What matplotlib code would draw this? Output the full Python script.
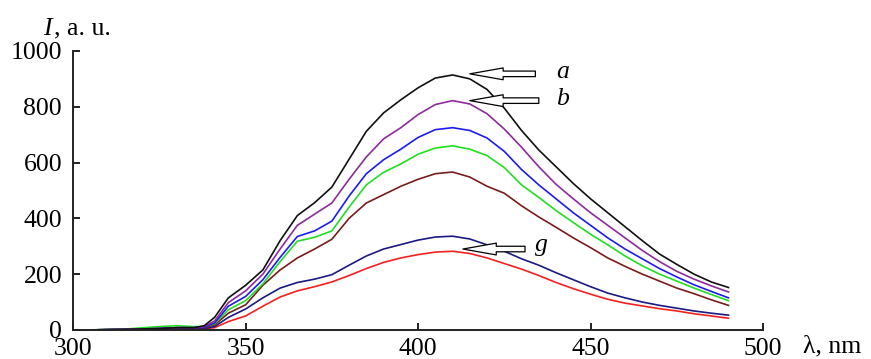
import matplotlib.pyplot as plt

# wavelength grid (nm)
wl = [305, 315, 325, 330, 335, 338, 341, 345, 350, 355, 360, 365, 370, 375,
      380, 385, 390, 395, 400, 405, 410, 415, 420, 425, 430, 435, 440, 445,
      450, 455, 460, 465, 470, 475, 480, 485, 490]

# intensities (a.u.), top curve (a) to bottom curve (g)
I_a = [0, 2, 5, 8, 8, 15, 45, 115, 160, 215, 320, 410, 456, 512,
       612, 712, 778, 825, 868, 903, 914, 900, 862, 795, 715, 645, 585, 525,
       470, 420, 370, 320, 272, 235, 200, 172, 152]
I_b = [0, 2, 5, 8, 8, 12, 32, 98, 140, 200, 290, 375, 415, 455,
       540, 620, 685, 725, 772, 808, 822, 810, 775, 720, 655, 585, 522, 470,
       420, 375, 330, 285, 245, 210, 182, 158, 136]
I_c = [0, 2, 5, 8, 8, 10, 25, 85, 120, 180, 260, 335, 355, 390,
       480, 560, 610, 648, 690, 718, 725, 715, 688, 640, 575, 520, 470, 420,
       375, 330, 290, 255, 220, 190, 162, 138, 115]
I_d = [0, 3, 12, 15, 12, 12, 22, 72, 105, 165, 245, 318, 332, 355,
       440, 520, 565, 595, 630, 652, 660, 648, 625, 582, 520, 475, 428, 385,
       343, 305, 265, 230, 200, 175, 150, 127, 105]
I_e = [0, 2, 5, 8, 8, 8, 18, 60, 90, 160, 215, 258, 290, 325,
       400, 455, 485, 515, 540, 560, 566, 548, 515, 490, 445, 405, 368, 330,
       295, 258, 228, 200, 175, 150, 130, 108, 88]
I_f = [0, 2, 4, 5, 5, 5, 12, 45, 75, 115, 150, 170, 182, 198,
       232, 265, 290, 306, 322, 333, 336, 326, 305, 282, 255, 232, 205, 180,
       155, 132, 115, 100, 88, 78, 68, 60, 53]
I_g = [0, 1, 3, 4, 4, 4, 8, 30, 50, 85, 118, 140, 155, 172,
       195, 220, 242, 258, 270, 279, 282, 274, 258, 238, 218, 195, 170, 148,
       128, 110, 96, 86, 76, 68, 58, 50, 42]

series = [I_a, I_b, I_c, I_d, I_e, I_f, I_g]
colors = ['#111111', '#8e2a9c', '#1c1cf0', '#22dd22', '#7a1c1c', '#1a1a82', '#f42020']

plt.rcParams['font.family'] = ['Liberation Serif', 'DejaVu Serif']

fig = plt.figure(figsize=(8.71, 3.59), dpi=100)
ax = fig.add_axes([0.084, 0.081, 0.792, 0.777])

# draw bottom curves first so upper ones sit on top
for vals, c in reversed(list(zip(series, colors))):
    ax.plot(wl, vals, color=c, lw=1.2)

ax.set_xlim(300, 500)
ax.set_ylim(0, 1000)
ax.set_xticks([300, 350, 400, 450, 500])
ax.set_yticks([0, 200, 400, 600, 800, 1000])
ax.spines['top'].set_visible(False)
ax.spines['right'].set_visible(False)
for s in ('left', 'bottom'):
    ax.spines[s].set_linewidth(1.4)
    ax.spines[s].set_color('#222222')
ax.tick_params(axis='both', direction='in', length=5, width=1.4,
               labelsize=18.5, colors='#222222', labelcolor='black')
ax.tick_params(axis='x', pad=6)
ax.tick_params(axis='y', pad=8)

# axis labels as free text
fig.text(0.049, 0.903, 'I', fontsize=18.5, style='italic', va='baseline')
fig.text(0.062, 0.903, ', a. u.', fontsize=18.5, va='baseline')
fig.text(0.922, 0.035, 'λ, nm', fontsize=18.5, va='center')

# hollow arrows with labels
arrow = dict(arrowstyle='simple,head_length=2.4,head_width=0.85,tail_width=0.4',
             fc='white', ec='black', lw=0.9, mutation_scale=10,
             shrinkA=0, shrinkB=0)
ax.annotate('', xy=(415, 918), xytext=(434, 918), arrowprops=arrow)
ax.annotate('', xy=(415, 822), xytext=(435, 822), arrowprops=arrow)
ax.annotate('', xy=(413, 290), xytext=(431, 290), arrowprops=arrow)
ax.text(440, 925, 'a', fontsize=18.5, style='italic', va='center')
ax.text(440, 828, 'b', fontsize=18.5, style='italic', va='center')
ax.text(434, 305, 'g', fontsize=18.5, style='italic', va='center')

fig.savefig('out.png', dpi=100)
